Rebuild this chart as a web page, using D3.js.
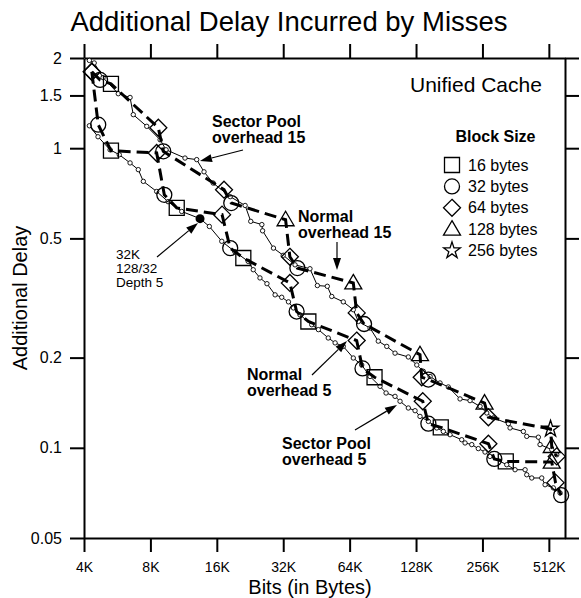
<!DOCTYPE html>
<html>
<head>
<meta charset="utf-8">
<script src="https://cdn.jsdelivr.net/npm/d3@7"></script>
<style>
  body { margin: 0; background: #fff; }
  svg { display: block; font-family: "Liberation Sans", Arial, Helvetica, sans-serif; }
</style>
</head>
<body>
<svg width="581" height="598"></svg>
<script>
// axis ticks
const xTicks = [4, 8, 16, 32, 64, 128, 256, 512];
const xTickLabels = ['4K', '8K', '16K', '32K', '64K', '128K', '256K', '512K'];
const yTicks = [0.05, 0.1, 0.2, 0.5, 1, 1.5, 2];
const yTickLabels = ['0.05', '0.1', '0.2', '0.5', '1', '1.5', '2'];

// legend
const blockSizes = [16, 32, 64, 128, 256];
const blockLabels = ['16 bytes', '32 bytes', '64 bytes', '128 bytes', '256 bytes'];

// Normal, overhead 15 (size in K, delay, block size of each point)
const normal15Size = [4.34, 4.73, 5.30, 8.69, 9.15, 17.25, 18.6, 32.8, 34.3, 37.1, 66.5, 68.9, 74.4, 133.4, 135.8, 145.6, 261.7, 272.4, 521, 527.8, 556];
const normal15Delay = [1.80, 1.69, 1.64, 1.17, 0.976, 0.727, 0.656, 0.577, 0.434, 0.398, 0.355, 0.282, 0.259, 0.2045, 0.172, 0.169, 0.141, 0.1265, 0.1156, 0.101, 0.0936];
const normal15Block = [64, 32, 16, 64, 32, 64, 32, 128, 64, 32, 128, 64, 32, 128, 64, 32, 128, 64, 256, 128, 64];

// Normal, overhead 5
const normal5Size = [4.34, 4.64, 5.30, 8.54, 9.25, 10.53, 16.9, 18.4, 21.1, 34.3, 36.8, 41.6, 68.9, 73.2, 83.0, 137.3, 145.6, 165.7, 272.4, 289.8, 326.6, 527.8, 549, 582];
const normal5Delay = [1.80, 1.198, 0.981, 0.964, 0.699, 0.632, 0.600, 0.464, 0.430, 0.355, 0.285, 0.264, 0.228, 0.184, 0.172, 0.143, 0.1204, 0.117, 0.1032, 0.0918, 0.0901, 0.0896, 0.0765, 0.0695];
const normal5Block = [64, 32, 16, 64, 32, 16, 64, 32, 16, 64, 32, 16, 64, 32, 16, 64, 32, 16, 64, 32, 16, 128, 64, 32];

// Sector Pool, overhead 15
const sector15Size = [4.23, 4.45, 4.88, 5.72, 6.47, 6.69, 7.70, 8.85, 9.42, 11.48, 12.97, 14.0, 15.4, 18.4, 21.5, 22.8, 25.6, 25.8, 28.9, 32.0, 36.2, 42.3, 45.7, 50.7, 53.1, 59.9, 66.5, 70.1, 79.2, 86.3, 94.3, 102.8, 118.1, 129, 138.1, 148.2, 164.4, 179.3, 202.6, 224.9, 249.7, 267.8, 286.8, 335.6, 341.5, 392.4, 406.5, 459, 467, 527.8, 556];
const sector15Delay = [1.963, 1.925, 1.72, 1.52, 1.477, 1.294, 1.183, 1.067, 0.988, 0.927, 0.916, 0.834, 0.765, 0.689, 0.644, 0.570, 0.556, 0.530, 0.464, 0.439, 0.408, 0.396, 0.348, 0.346, 0.320, 0.307, 0.289, 0.264, 0.251, 0.227, 0.218, 0.207, 0.201, 0.189, 0.180, 0.173, 0.1646, 0.1596, 0.1456, 0.1437, 0.1375, 0.1307, 0.1258, 0.1204, 0.1165, 0.1134, 0.1092, 0.1085, 0.1025, 0.0986, 0.0948];

// Sector Pool, overhead 5
const sector5Size = [4.23, 4.63, 5.25, 5.78, 6.47, 7.05, 7.43, 8.54, 9.62, 11.09, 13.43, 14.8, 16.85, 19.3, 22.2, 23.4, 25.1, 27.0, 29.4, 31.5, 33.8, 35.6, 38.1, 43.1, 46.2, 51.2, 55.0, 59.9, 66.5, 72.6, 79.2, 87.9, 93.6, 102.8, 108.3, 118.1, 126.7, 133.4, 145.6, 158.9, 170.2, 182.5, 206.2, 213.5, 229, 245.2, 263, 277, 330, 359.7, 399.6, 406.5, 428.3, 475.4, 492.3, 536.6, 575.5];
const sector5Delay = [1.188, 1.092, 0.988, 0.951, 0.893, 0.848, 0.775, 0.717, 0.663, 0.615, 0.582, 0.548, 0.489, 0.4515, 0.419, 0.393, 0.369, 0.353, 0.324, 0.318, 0.307, 0.293, 0.278, 0.2575, 0.248, 0.2326, 0.224, 0.218, 0.1994, 0.189, 0.173, 0.1604, 0.1524, 0.1485, 0.143, 0.1358, 0.133, 0.1273, 0.1225, 0.1165, 0.1134, 0.1106, 0.1064, 0.1038, 0.1025, 0.0994, 0.0968, 0.0936, 0.0878, 0.0845, 0.0845, 0.0813, 0.0793, 0.0793, 0.0753, 0.0735, 0.0707];

// the "32K 128/32 Depth 5" point
const highlightSize = 13.43;
const highlightDelay = 0.582;

const svg = d3.select('svg');
const x = d3.scaleLog().base(2).domain([4, 606]).range([84, 565]);
const y = d3.scaleLog().domain([0.05, 2]).range([538, 58]);

const zip = (s, d, b) => s.map((v, i) => ({size: v, delay: d[i], block: b ? b[i] : null}));

// marker shapes, centred on 0,0
const markerPath = function(block) {
  if (block === 16) return 'M-7.5,-7.5h15v15h-15Z';
  if (block === 32) return 'M7.5,0A7.5,7.5 0 1,1 -7.5,0A7.5,7.5 0 1,1 7.5,0Z';
  if (block === 64) return 'M0,-8.5L8.5,0L0,8.5L-8.5,0Z';
  if (block === 128) return 'M0,-8.5L8.5,6L-8.5,6Z';
  return d3.symbol(d3.symbolStar, 85)();
};

// axes
const styleAxis = function(g) {
  g.attr('font-family', null);
  g.select('.domain').attr('stroke-width', 2);
  g.selectAll('.tick line').attr('stroke-width', 2);
  g.selectAll('.tick text').attr('fill', '#000');
};
svg.append('g').attr('transform', 'translate(0,538)')
  .call(d3.axisBottom(x).tickValues(xTicks).tickFormat((d, i) => xTickLabels[i])
    .tickSize(14).tickSizeOuter(0).tickPadding(10))
  .attr('font-size', 14).call(styleAxis);
svg.append('g').attr('transform', 'translate(0,58)')
  .call(d3.axisTop(x).tickValues(xTicks).tickFormat(() => '').tickSize(14).tickSizeOuter(0))
  .call(styleAxis);
svg.append('g').attr('transform', 'translate(84,0)')
  .call(d3.axisLeft(y).tickValues(yTicks).tickFormat((d, i) => yTickLabels[i])
    .tickSize(14).tickSizeOuter(0).tickPadding(8))
  .attr('font-size', 16).call(styleAxis);
svg.append('g').attr('transform', 'translate(565,0)')
  .call(d3.axisRight(y).tickValues(yTicks).tickFormat(() => '').tickSize(14).tickSizeOuter(0))
  .call(styleAxis);

// titles
svg.append('text').attr('x', 289).attr('y', 31).attr('text-anchor', 'middle')
  .attr('font-size', 27.5).text('Additional Delay Incurred by Misses');
svg.append('text').attr('x', 310).attr('y', 594).attr('text-anchor', 'middle')
  .attr('font-size', 20).text('Bits (in Bytes)');
svg.append('text').attr('transform', 'translate(27,298) rotate(-90)').attr('text-anchor', 'middle')
  .attr('font-size', 20).text('Additional Delay');

const line = d3.line().x(d => x(d.size)).y(d => y(d.delay));
const plot = svg.append('g');

// sector pool curves: thin line, small circles
[zip(sector15Size, sector15Delay), zip(sector5Size, sector5Delay)].forEach(function(pts) {
  plot.append('path').datum(pts).attr('d', line)
    .attr('fill', 'none').attr('stroke', '#000').attr('stroke-width', 1);
  plot.append('g').selectAll('circle').data(pts).enter().append('circle')
    .attr('cx', d => x(d.size)).attr('cy', d => y(d.delay)).attr('r', 2.2)
    .attr('fill', '#fff').attr('stroke', '#000').attr('stroke-width', 0.9);
});

plot.append('circle').attr('cx', x(highlightSize)).attr('cy', y(highlightDelay)).attr('r', 4.5).attr('fill', '#000');

// normal curves: thick dashed line through block size markers
[zip(normal15Size, normal15Delay, normal15Block), zip(normal5Size, normal5Delay, normal5Block)].forEach(function(pts) {
  plot.append('path').datum(pts).attr('d', line)
    .attr('fill', 'none').attr('stroke', '#000').attr('stroke-width', 3).attr('stroke-dasharray', '12,6');
});
[zip(normal15Size, normal15Delay, normal15Block), zip(normal5Size, normal5Delay, normal5Block)].forEach(function(pts) {
  plot.append('g').selectAll('path').data(pts).enter().append('path')
    .attr('d', d => markerPath(d.block))
    .attr('transform', d => 'translate(' + x(d.size) + ',' + y(d.delay) + ')')
    .attr('fill', 'none').attr('stroke', '#000').attr('stroke-width', 1.3);
});

// annotations
const arrow = function(x1, y1, x2, y2) {
  const a = Math.atan2(y2 - y1, x2 - x1), len = 12, w = 4;
  const bx = x2 - len * Math.cos(a), by = y2 - len * Math.sin(a);
  svg.append('line').attr('x1', x1).attr('y1', y1).attr('x2', bx).attr('y2', by)
    .attr('stroke', '#000').attr('stroke-width', 1.2);
  svg.append('path').attr('fill', '#000').attr('d',
    'M' + x2 + ',' + y2 +
    'L' + (bx + w * Math.sin(a)) + ',' + (by - w * Math.cos(a)) +
    'L' + (bx - w * Math.sin(a)) + ',' + (by + w * Math.cos(a)) + 'Z');
};
const label = function(lines, x0, y0, size, bold, dy) {
  const t = svg.append('text').attr('font-size', size).attr('font-weight', bold ? 'bold' : null);
  lines.forEach((s, i) => t.append('tspan').attr('x', x0).attr('y', y0 + i * dy).text(s));
};

label(['Sector Pool', 'overhead 15'], 212, 127, 16, true, 16);
arrow(243, 150, 200, 161);
label(['Normal', 'overhead 15'], 298, 221.5, 16, true, 16);
arrow(337, 242, 337, 270);
label(['Normal', 'overhead 5'], 247, 380, 16, true, 16);
arrow(312, 375, 347, 341);
label(['Sector Pool', 'overhead 5'], 282, 449, 16, true, 16);
arrow(355, 430, 397, 405);
label(['32K', '128/32', 'Depth 5'], 116, 258.5, 13.5, false, 14.3);
arrow(157, 257, 198, 223);

// legend
svg.append('text').attr('x', 495.5).attr('y', 142).attr('text-anchor', 'middle')
  .attr('font-size', 16).attr('font-weight', 'bold').text('Block Size');
svg.append('text').attr('x', 410).attr('y', 92).attr('font-size', 21).text('Unified Cache');
const legend = svg.append('g').selectAll('g').data(blockSizes).enter().append('g')
  .attr('transform', (d, i) => 'translate(452,' + (165 + i * 21.4) + ')');
legend.append('path').attr('d', d => markerPath(d))
  .attr('fill', 'none').attr('stroke', '#000').attr('stroke-width', 1.3);
legend.append('text').attr('x', 16).attr('y', 5.5).attr('font-size', 16).text((d, i) => blockLabels[i]);
</script>
</body>
</html>
